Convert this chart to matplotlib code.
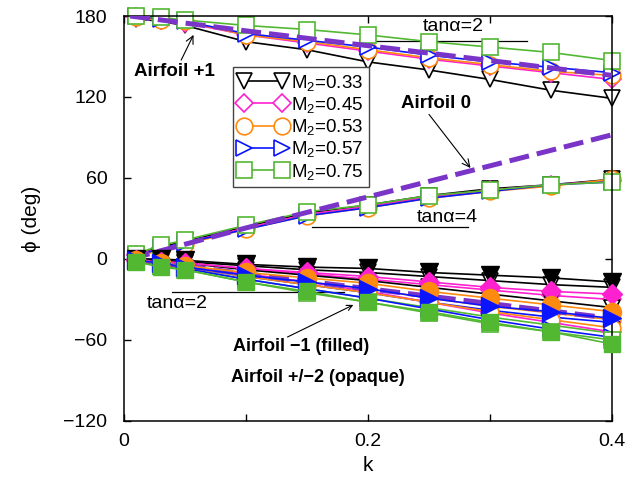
import matplotlib
matplotlib.use("Agg")
import matplotlib.pyplot as plt  # noqa: E402
from matplotlib.lines import Line2D  # noqa: E402

plt.rcParams["font.family"] = ["Liberation Sans", "DejaVu Sans"]
plt.rcParams["mathtext.fontset"] = "custom"
plt.rcParams["mathtext.rm"] = "Liberation Sans"
plt.rcParams["mathtext.it"] = "Liberation Sans:italic"

k = [0.01, 0.03, 0.05, 0.1, 0.15, 0.2, 0.25, 0.3, 0.35, 0.4]
mach_labels = ["M$_2$=0.33", "M$_2$=0.45", "M$_2$=0.53", "M$_2$=0.57", "M$_2$=0.75"]
colors = ["black", "#ff20d0", "#ff8a10", "#0a14ff", "#52b832"]
markers = ["v", "D", "o", ">", "s"]
marker_sizes = [12, 9, 12, 12, 11]

# Airfoil +1 (open markers)
phi_plus1 = [
    [178, 176, 173, 161, 155, 146, 140, 133, 125, 119],
    [179, 177, 175, 166, 160, 154, 148, 143, 138, 133],
    [179, 177, 176, 166, 161, 155, 149, 144, 139, 136],
    [180, 178, 176, 167, 162, 157, 151, 146, 142, 138],
    [180, 179, 177, 173, 170, 166, 161, 157, 153, 147],
]
# Airfoil 0 (open markers)
phi_zero = [
    [3, 9, 13, 24, 34, 40, 47, 52, 55, 59],
    [3, 8, 12, 23, 33, 39, 46, 51, 55, 58],
    [1, 7, 11, 22, 32, 38, 45, 50, 54, 59],
    [2, 8, 12, 22, 32, 38, 45, 50, 55, 57],
    [4, 10, 14, 25, 35, 40, 47, 51, 55, 57],
]
# Airfoil -1 (filled markers)
phi_minus1 = [
    [0, 0, -1, -4, -6, -7, -10, -12, -14, -17],
    [-1, -2, -3, -7, -10, -13, -17, -21, -24, -26],
    [-1, -3, -5, -10, -14, -18, -24, -29, -34, -39],
    [-1, -3, -6, -12, -17, -22, -29, -35, -39, -44],
    [-2, -6, -8, -17, -24, -32, -39, -47, -54, -63],
]
# Airfoil +2 (open markers)
phi_plus2 = [
    [0, -1, -2, -5, -8, -10, -13, -16, -19, -21],
    [-1, -2, -3, -7, -11, -15, -19, -23, -27, -30],
    [-1, -3, -5, -12, -17, -22, -29, -35, -40, -45],
    [-1, -3, -6, -13, -19, -25, -32, -38, -43, -47],
    [-2, -5, -7, -15, -22, -29, -36, -43, -49, -55],
]
# Airfoil -2 (open markers)
phi_minus2 = [
    [0, -2, -3, -8, -12, -16, -21, -26, -31, -36],
    [-1, -3, -5, -11, -17, -24, -32, -40, -47, -54],
    [-1, -3, -6, -13, -19, -25, -32, -39, -45, -51],
    [-1, -4, -7, -15, -22, -29, -37, -45, -52, -58],
    [-2, -5, -8, -17, -25, -32, -40, -48, -54, -60],
]

# dashed reference curves
k_ref = [0.005, 0.1, 0.2, 0.3, 0.4]
phi_ref_plus1 = [180, 169, 158, 147, 136]
phi_ref_zero = [0, 23, 46, 69, 92]
phi_ref_minus1 = [0, -11, -22, -33, -44]

fig = plt.figure(figsize=(6.44, 4.82), dpi=100)
ax = fig.add_axes([0.1925, 0.1266, 0.7578, 0.8402])

for group in (phi_plus2, phi_minus2, phi_plus1, phi_zero):
    for vals, c, m, ms in zip(group, colors, markers, marker_sizes):
        ax.plot(k, vals, color=c, lw=1.2, marker=m, ms=ms, mfc="white",
                mec=c, mew=1.2, clip_on=False, zorder=2)

for ref in (phi_ref_plus1, phi_ref_zero, phi_ref_minus1):
    ax.plot(k_ref, ref, color="#7a35c8", lw=3.6, ls=(0, (4, 1.6)), zorder=3)

for vals, c, m, ms in zip(phi_minus1, colors, markers, marker_sizes):
    ax.plot(k, vals, color=c, lw=1.2, marker=m, ms=ms + 1, mfc=c, mec=c,
            clip_on=False, zorder=4)

ax.set_xlim(0, 0.4)
ax.set_ylim(-120, 180)
ax.set_xticks([0, 0.1, 0.2, 0.3, 0.4])
ax.set_xticklabels(["0", "", "0.2", "", "0.4"])
ax.set_yticks([-120, -60, 0, 60, 120, 180])
ax.tick_params(direction="in", length=5, width=1, top=True, right=True,
               labelsize=14)
ax.tick_params(axis="y", pad=12)
ax.tick_params(axis="x", pad=9)
for s in ax.spines.values():
    s.set_linewidth(1.1)
ax.set_xlabel("k", fontsize=15, labelpad=4)
ax.set_ylabel("ϕ (deg)", fontsize=15, labelpad=16)

# annotations
ax.annotate("Airfoil +1", xy=(0.057, 166), xytext=(0.008, 139),
            fontsize=13.5, fontweight="bold", va="center",
            arrowprops=dict(arrowstyle="->", lw=0.8, color="black",
                            shrinkA=0, shrinkB=0, relpos=(0.57, 1.0)))
ax.annotate("Airfoil 0", xy=(0.284, 67.4), xytext=(0.227, 115.5),
            fontsize=13.5, fontweight="bold", va="center",
            arrowprops=dict(arrowstyle="->", lw=0.8, color="black",
                            shrinkA=0, shrinkB=0, relpos=(0.37, 0.0)))
ax.annotate("", xy=(0.188, -34), xytext=(0.134, -57.8),
            arrowprops=dict(arrowstyle="->", lw=0.8, color="black",
                            shrinkA=0, shrinkB=0))
ax.text(0.089, -65, "Airfoil \u22121 (filled)", fontsize=13,
        fontweight="bold", va="center")
ax.text(0.088, -88, "Airfoil +/\u22122 (opaque)", fontsize=13,
        fontweight="bold", va="center")

ax.plot([0.2, 0.33], [161.5, 161.5], color="black", lw=0.9, zorder=1)
ax.text(0.245, 172, "tan\u03b1=2", fontsize=14, va="center")
ax.plot([0.154, 0.282], [24, 24], color="black", lw=0.9, zorder=1)
ax.text(0.240, 31, "tan\u03b1=4", fontsize=14, va="center")
ax.plot([0.039, 0.18], [-24.5, -24.5], color="black", lw=0.9, zorder=1)
ax.text(0.019, -33, "tan\u03b1=2", fontsize=14, va="center")

handles = [Line2D([], [], color=c, lw=1.2, marker=m, ms=ms, mfc="white",
                  mec=c, mew=1.2)
           for c, m, ms in zip(colors, markers, marker_sizes)]
leg = ax.legend(handles, mach_labels, loc="upper left",
                bbox_to_anchor=(0.223, 0.874), borderaxespad=0,
                numpoints=2, handlelength=2.6, handletextpad=0.2,
                labelspacing=0.12, borderpad=0.3, fontsize=13.5,
                fancybox=False, framealpha=1, edgecolor="#444444")
leg.get_frame().set_linewidth(1.0)
leg.set_zorder(6)

fig.savefig("out.png", dpi=100)
